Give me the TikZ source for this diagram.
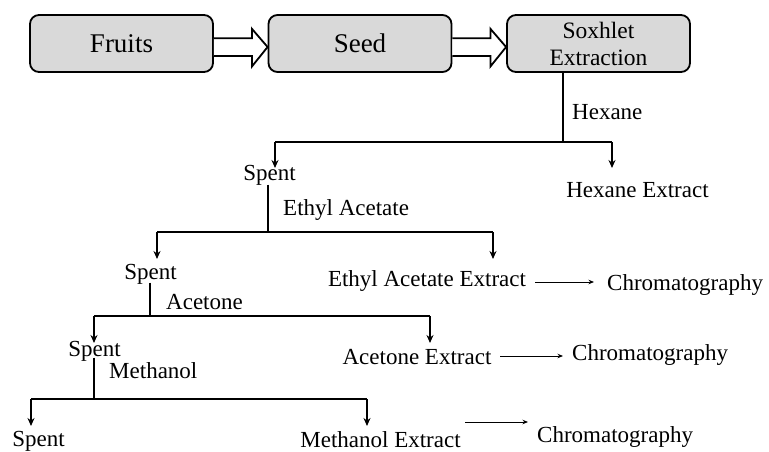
\documentclass[tikz,border=0pt]{standalone}
\usepackage{fontspec}
\setmainfont{Liberation Serif}
\usetikzlibrary{arrows.meta,calc}
\definecolor{boxgray}{HTML}{D9D9D9}
\begin{document}
\begin{tikzpicture}[x=1pt,y=-1pt,
 box/.style={draw, line width=1.8pt, rounded corners=9pt, fill=boxgray, minimum width=183pt, minimum height=57pt, inner sep=0pt, align=center},
 lbl/.style={inner sep=0pt, font=\fontsize{23}{24}\selectfont, text height=16pt, text depth=5pt},
 conn/.style={line width=2pt},
 arr/.style={conn, -{Stealth[length=8pt,width=7pt]}},
 thinarr/.style={line width=0.9pt, -{Stealth[length=5.5pt,width=4.5pt]}},
 blk/.style={line width=1.8pt, fill=white, line join=miter}]
\useasboundingbox (0,0) rectangle (769,451);

% top boxes
\node[box, font=\fontsize{27}{30}\selectfont] (fruits) at (121.5,43.5) {Fruits};
\node[box, font=\fontsize{27}{30}\selectfont] (seed) at (360,43.5) {Seed};
\node[box, font=\fontsize{23.5}{27}\selectfont] (sox) at (598.5,43.5) {Soxhlet\\Extraction};

% block arrows
\draw[blk] ($(fruits.east)+(0,-5.2)$) -- ++(38,0) -- ++(0,-9.5) -- ($(seed.west)+(0,3.5)$)
  -- ($(fruits.east)+(38,23)$) -- ++(0,-10.5) -- ($(fruits.east)+(0,12.5)$);
\draw[blk] ($(seed.east)+(0,-5.2)$) -- ++(38,0) -- ++(0,-9.5) -- ($(sox.west)+(0,3.5)$)
  -- ($(seed.east)+(38,23)$) -- ++(0,-10.5) -- ($(seed.east)+(0,12.5)$);

% text nodes
\node[lbl, anchor=west] (hexlbl) at (572,114) {Hexane};
\node[lbl] (hexext) at (637.5,192) {Hexane Extract};
\node[lbl] (spent1) at (269.5,175) {Spent};
\node[lbl, anchor=west] (ethlbl) at (283,210) {Ethyl Acetate};
\node[lbl] (spent2) at (150.5,274) {Spent};
\node[lbl] (ethext) at (427,281) {Ethyl Acetate Extract};
\node[lbl, anchor=west] (chrom1) at (607,285) {Chromatography};
\node[lbl, anchor=west] (acelbl) at (166,304) {Acetone};
\node[lbl] (spent3) at (94.5,351) {Spent};
\node[lbl] (aceext) at (417,359) {Acetone Extract};
\node[lbl, anchor=west] (chrom2) at (572,355) {Chromatography};
\node[lbl, anchor=west] (methlbl) at (109,373) {Methanol};
\node[lbl] (spent4) at (38.5,441) {Spent};
\node[lbl] (methext) at (380.5,442) {Methanol Extract};
\node[lbl, anchor=west] (chrom3) at (537,437) {Chromatography};

% junction coordinates
\coordinate (j1) at (563,142);
\coordinate (j1l) at (275,142);
\coordinate (j1r) at (612,142);
\coordinate (t1l) at (275,168);
\coordinate (t1r) at (612,168);

\coordinate (j2) at (268,232);
\coordinate (j2l) at (157,232);
\coordinate (j2r) at (493,232);
\coordinate (t2l) at (157,259);
\coordinate (t2r) at (493,259);

\coordinate (j3) at (150,316);
\coordinate (j3l) at (94,316);
\coordinate (j3r) at (430,316);
\coordinate (t3l) at (94,343);
\coordinate (t3r) at (430,343);

\coordinate (j4) at (94,399);
\coordinate (j4l) at (31,399);
\coordinate (j4r) at (367,399);
\coordinate (t4l) at (31,426);
\coordinate (t4r) at (367,426);

% branches
\draw[conn] (j1 |- sox.south) -- (j1);
\draw[conn] (j1l) -- (j1r);
\draw[arr] (j1l) -- (t1l);
\draw[arr] (j1r) -- (t1r);

\draw[conn] ($(j2 |- spent1.south)+(0,-1)$) -- (j2);
\draw[conn] (j2l) -- (j2r);
\draw[arr] (j2l) -- (t2l);
\draw[arr] (j2r) -- (t2r);

\draw[conn] ($(j3 |- spent2.south)+(0,-2)$) -- (j3);
\draw[conn] (j3l) -- (j3r);
\draw[arr] (j3l) -- (t3l);
\draw[arr] (j3r) -- (t3r);

\draw[conn] ($(j4 |- spent3.south)+(0,-4)$) -- (j4);
\draw[conn] (j4l) -- (j4r);
\draw[arr] (j4l) -- (t4l);
\draw[arr] (j4r) -- (t4r);

% chromatography arrows
\coordinate (e1) at (535,282);
\coordinate (e2) at (594,282);
\coordinate (a1) at (500,356);
\coordinate (a2) at (563,356);
\coordinate (m1) at (465,422);
\coordinate (m2) at (528,422);
\draw[thinarr] (e1) -- (e2);
\draw[thinarr] (a1) -- (a2);
\draw[thinarr] (m1) -- (m2);
\end{tikzpicture}
\end{document}
